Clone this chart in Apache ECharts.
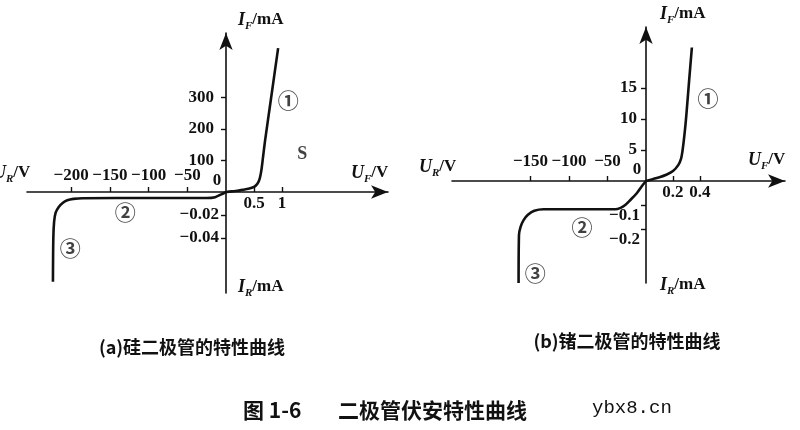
<!DOCTYPE html>
<html>
<head>
<meta charset="utf-8">
<script src="https://cdn.jsdelivr.net/npm/echarts@6/dist/echarts.min.js"></script>
<style>html,body{margin:0;padding:0;background:#fff}#c{width:800px;height:430px}</style>
</head>
<body>
<div id="c"></div>
<script>
// ---- Data: (a) silicon diode ----
const siFwdV = [0, 0.1, 0.2, 0.3, 0.4, 0.5, 0.56, 0.6, 0.63, 0.66, 0.7, 0.8, 0.93];
const siFwdI = [0, 2, 4, 7, 10, 16, 26, 42, 68, 110, 167, 293, 457];
const siRevV = [0, -6, -14, -25, -100, -185, -197, -205, -211, -216, -220, -222, -223, -223.5];
const siRevI = [0, -0.002, -0.0045, -0.0052, -0.0052, -0.0054, -0.006, -0.0072, -0.0095, -0.013, -0.018, -0.026, -0.04, -0.078];
// ---- Data: (b) germanium diode ----
const geFwdV = [0, 0.05, 0.1, 0.15, 0.2, 0.24, 0.26, 0.27, 0.28, 0.29, 0.3, 0.32, 0.34];
const geFwdI = [0, 0.3, 0.6, 1.0, 1.6, 2.6, 3.6, 4.8, 6.5, 8.5, 10.9, 16.3, 21.5];
const geRevV = [0, -5, -12, -20, -27, -33, -40, -133, -145, -153, -159, -163, -165, -165.5];
const geRevI = [0, -0.02, -0.051, -0.078, -0.1, -0.112, -0.118, -0.118, -0.124, -0.14, -0.163, -0.192, -0.225, -0.425];

// ---- Tick values and labels ----
const siPosXTicks = [0.5, 1];           const siPosXLabels = ['0.5', '1'];
const siNegXTicks = [-200, -150, -100, -50]; const siNegXLabels = ['−200', '−150', '−100', '−50'];
const siPosYTicks = [100, 200, 300];    const siPosYLabels = ['100', '200', '300'];
const siNegYTicks = [-0.02, -0.04];     const siNegYLabels = ['−0.02', '−0.04'];
const gePosXTicks = [0.2, 0.4];         const gePosXLabels = ['0.2', '0.4'];
const geNegXTicks = [-150, -100, -50];  const geNegXLabels = ['−150', '−100', '−50'];
const gePosYTicks = [5, 10, 15];        const gePosYLabels = ['5', '10', '15'];
const geNegYTicks = [-0.1, -0.2];       const geNegYLabels = ['−0.1', '−0.2'];
const originLabel = '0';

// ---- Curve region annotations (data coordinates) ----
const siNotesQ1 = [['①', 1.11, 292]];
const siNotesS = [['S', 1.36, 121]];
const siNotesQ3 = [['②', -130, -0.0174], ['③', -201, -0.0487]];
const geNotesQ1 = [['①', 0.46, 13.4]];
const geNotesQ3 = [['②', -83, -0.19], ['③', -144, -0.383]];

const zip = (a, b) => a.map((v, i) => [v, b[i]]);
const SERIF = 'Liberation Serif';
const INK = '#111';
const FS = 17;
const FW = 'bold';
const lab = (vals, txts) => v => { const i = vals.findIndex(t => Math.abs(t - v) < 1e-9); return i >= 0 ? txts[i] : ''; };

const axisLine = (arrow) => ({
  show: true, onZero: true,
  lineStyle: { color: INK, width: 1.6 },
  symbol: arrow ? ['none', 'arrow'] : ['none', 'none'],
  symbolSize: [10, 17]
});
const baseLabel = { color: INK, fontFamily: SERIF, fontSize: FS, fontWeight: FW };
const rs = (pad) => ({ fontFamily: SERIF, fontSize: FS, fontWeight: FW, color: INK, padding: pad });

function xPos(grid, max, ticks, labels, margin) {
  return {
    type: 'value', gridIndex: grid, min: 0, max: max, position: 'bottom',
    axisLine: axisLine(true), splitLine: { show: false },
    axisTick: { show: true, inside: true, length: 5, customValues: ticks, lineStyle: { color: INK, width: 1.4 } },
    axisLabel: Object.assign({}, baseLabel, { customValues: ticks, formatter: lab(ticks, labels), margin: margin })
  };
}
function xNeg(grid, min, ticks, labels, margin, zeroDrop) {
  const vals = ticks.concat([0]);
  return {
    type: 'value', gridIndex: grid, min: min, max: 0, position: 'top',
    axisLine: axisLine(false), splitLine: { show: false },
    axisTick: { show: true, inside: false, length: 5, customValues: ticks, lineStyle: { color: INK, width: 1.4 } },
    axisLabel: Object.assign({}, baseLabel, {
      customValues: vals, margin: margin - zeroDrop,
      formatter: v => Math.abs(v) < 1e-9 ? '{z|' + originLabel + '}' : '{n|' + lab(ticks, labels)(v) + '}',
      rich: { z: rs([0, 18, 0, 0]), n: rs([0, 0, zeroDrop, 0]) }
    })
  };
}
function yPos(grid, max, ticks, labels, margin) {
  return {
    type: 'value', gridIndex: grid, min: 0, max: max, position: 'left',
    axisLine: axisLine(true), splitLine: { show: false },
    axisTick: { show: true, inside: false, length: 5, customValues: ticks, lineStyle: { color: INK, width: 1.4 } },
    axisLabel: Object.assign({}, baseLabel, { customValues: ticks, formatter: lab(ticks, labels), margin: margin })
  };
}
function yNeg(grid, min, ticks, labels, margin, shiftDown) {
  return {
    type: 'value', gridIndex: grid, min: min, max: 0, position: 'right',
    axisLine: axisLine(false), splitLine: { show: false },
    axisTick: { show: true, inside: true, length: 5, customValues: ticks, lineStyle: { color: INK, width: 1.4 } },
    axisLabel: Object.assign({}, baseLabel, {
      inside: true, customValues: ticks, margin: margin,
      formatter: v => '{d|' + lab(ticks, labels)(v) + '}',
      rich: { d: rs([shiftDown, 0, 0, 0]) }
    })
  };
}

const curve = (g, data) => ({
  type: 'line', xAxisIndex: g, yAxisIndex: g, data: data, smooth: 0.3,
  showSymbol: false, symbol: 'none', clip: false,
  lineStyle: { color: INK, width: 2.6 }, silent: true, animation: false
});
const notes = (g, arr, font, size) => ({
  type: 'scatter', xAxisIndex: g, yAxisIndex: g, symbolSize: 0, silent: true, animation: false,
  data: arr.map(n => ({ name: n[0], value: [n[1], n[2]] })),
  label: {
    show: true, position: 'inside', formatter: p => p.name,
    fontFamily: font, fontSize: size, fontWeight: 'bold', color: INK
  }
});
const CIRC = 'Noto Sans CJK SC';

const rt = (txt) => ({ text: txt, rich: {
  v: { fontFamily: SERIF, fontStyle: 'italic', fontWeight: 'bold', fontSize: 18, fill: INK, lineHeight: 20 },
  s: { fontFamily: SERIF, fontStyle: 'italic', fontWeight: 'bold', fontSize: 11, fill: INK, lineHeight: 20, verticalAlign: 'bottom', padding: [0, 0, -2, 0] },
  n: { fontFamily: SERIF, fontSize: 17, fontWeight: 'bold', fill: INK, lineHeight: 20 }
}});
const axName = (x, y, html) => ({ type: 'text', x: x, y: y, silent: true,
  style: Object.assign(rt(html), { textVerticalAlign: 'middle', textAlign: 'left', fill: INK }) });
const txt = (x, y, s, font, align) => ({ type: 'text', x: x, y: y, silent: true,
  style: { text: s, font: font, fill: INK, textAlign: align || 'left', textVerticalAlign: 'middle' } });

const chart = echarts.init(document.getElementById('c'), null, { renderer: 'canvas' });
chart.setOption({
  backgroundColor: '#fff',
  animation: false,
  grid: [
    { left: 226, top: 33, width: 162, height: 159, outerBoundsMode: 'none', containLabel: false },
    { left: 27, top: 192, width: 199, height: 101, outerBoundsMode: 'none', containLabel: false },
    { left: 646, top: 27, width: 139, height: 154, outerBoundsMode: 'none', containLabel: false },
    { left: 452, top: 181, width: 194, height: 102, outerBoundsMode: 'none', containLabel: false }
  ],
  xAxis: [
    xPos(0, 2.89, siPosXTicks, siPosXLabels, 3),
    xNeg(1, -257, siNegXTicks, siNegXLabels, 8, 5),
    xPos(2, 1.03, gePosXTicks, gePosXLabels, 3),
    xNeg(3, -252, geNegXTicks, geNegXLabels, 11, 8)
  ],
  yAxis: [
    yPos(0, 505, siPosYTicks, siPosYLabels, 12),
    yNeg(1, -0.0878, siNegYTicks, siNegYLabels, 7, 0),
    yPos(2, 24.8, gePosYTicks, gePosYLabels, 9),
    yNeg(3, -0.425, geNegYTicks, geNegYLabels, 6, 22)
  ],
  series: [
    curve(0, zip(siFwdV, siFwdI)),
    curve(1, zip(siRevV, siRevI)),
    curve(2, zip(geFwdV, geFwdI)),
    curve(3, zip(geRevV, geRevI)),
    notes(0, siNotesQ1, CIRC, 21), notes(0, siNotesS, SERIF, 18),
    notes(1, siNotesQ3, CIRC, 21), notes(2, geNotesQ1, CIRC, 21), notes(3, geNotesQ3, CIRC, 21)
  ],
  graphic: [
    axName(238, 20, '{v|I}{s|F}{n|/mA}'),
    axName(-7, 173, '{v|U}{s|R}{n|/V}'),
    axName(351, 173, '{v|U}{s|F}{n|/V}'),
    axName(238, 287, '{v|I}{s|R}{n|/mA}'),
    axName(660, 14, '{v|I}{s|F}{n|/mA}'),
    axName(419, 167, '{v|U}{s|R}{n|/V}'),
    axName(748, 160, '{v|U}{s|F}{n|/V}'),
    axName(660, 285, '{v|I}{s|R}{n|/mA}'),
    txt(192, 347, '(a)硅二极管的特性曲线', 'bold 18px "Noto Sans CJK SC"', 'center'),
    txt(627, 341, '(b)锗二极管的特性曲线', 'bold 18px "Noto Sans CJK SC"', 'center'),
    txt(243, 410, '图 1-6', 'bold 21px "Noto Sans CJK SC"'),
    txt(338, 410, '二极管伏安特性曲线', 'bold 21px "Noto Sans CJK SC"'),
    txt(592, 408, 'ybx8.cn', '19px "Liberation Mono"')
  ]
});
</script>
</body>
</html>
